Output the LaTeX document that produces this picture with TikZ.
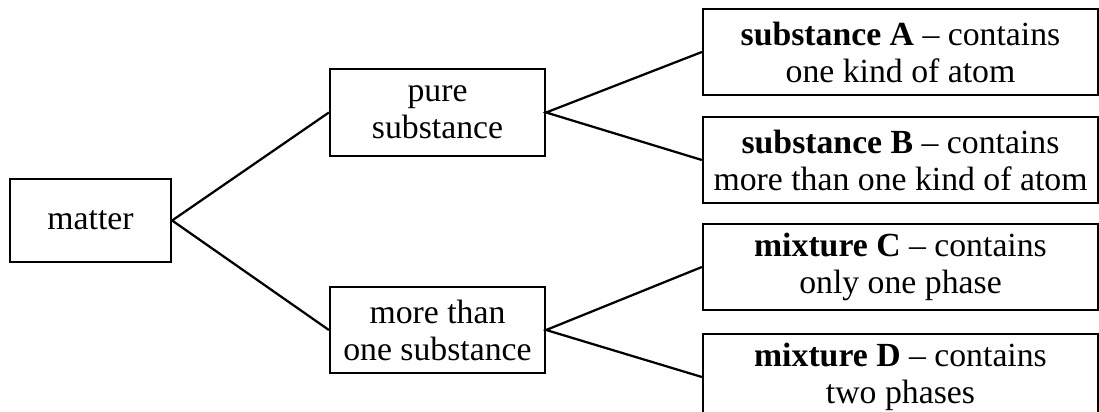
\documentclass[tikz,border=0pt]{standalone}
\usepackage{fontspec}
\setmainfont{Liberation Serif}
\begin{document}
\begin{tikzpicture}[x=0.4pt, y=-0.4pt,
    box/.style={draw, line width=0.9pt, align=center, inner sep=0pt,
        font=\fontsize{13.5}{14.8}\selectfont},
    leaf/.style={box, minimum width=158pt, minimum height=34.4pt}]
    \useasboundingbox (0,0) rectangle (1099,412);

    % 1. Gốc
    \node[box, minimum width=64.4pt, minimum height=33.2pt] (matter) at (90.5,220.5) {matter};

    % 2. Nhánh giữa
    \node[box, minimum width=86pt, minimum height=34.8pt] (pure) at (437.5,112.5) {pure\\substance};
    \node[box, minimum width=86pt, minimum height=34.4pt] (more) at (437.5,330) {more than\\one substance};

    % 3. Các lá
    \node[leaf] (subA) at (900.5,52) {\textbf{substance A} -- contains\\one kind of atom};
    \node[leaf] (subB) at (900.5,160) {\textbf{substance B} -- contains\\more than one kind of atom};
    \node[leaf] (mixC) at (900.5,267) {\textbf{mixture C} -- contains\\only one phase};
    \node[leaf] (mixD) at (900.5,377) {\textbf{mixture D} -- contains\\two phases};

    % 4. Đường nối
    \draw[line width=0.9pt] (pure.west) -- (matter.east) -- (more.west);
    \draw[line width=0.9pt] (subA.west) -- (pure.east) -- (subB.west);
    \draw[line width=0.9pt] (mixC.west) -- (more.east) -- (mixD.west);
\end{tikzpicture}
\end{document}
